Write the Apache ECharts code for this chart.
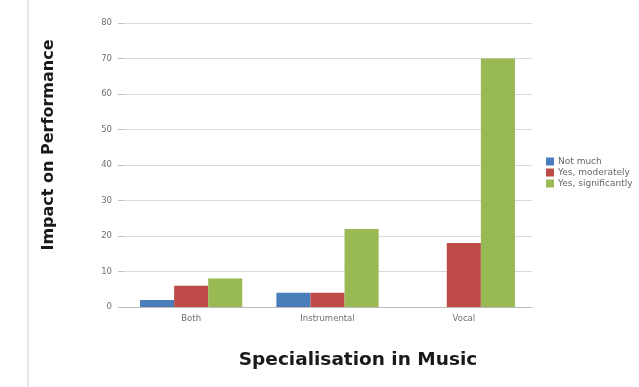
<!DOCTYPE html>
<html>
<head>
<meta charset="utf-8">
<script src="https://cdn.jsdelivr.net/npm/echarts@6/dist/echarts.min.js"></script>
<style>
  html, body { margin: 0; padding: 0; background: #fff; }
  #chart { width: 639px; height: 387px; }
</style>
</head>
<body>
<div id="chart"></div>
<script>
// Survey responses by music specialisation
const categories = ['Both', 'Instrumental', 'Vocal'];
const seriesNames = ['Not much', 'Yes, moderately', 'Yes, significantly'];
const notMuch = [2, 4, 0];
const moderately = [6, 4, 18];
const significantly = [8, 22, 70];
const yTicks = [0, 10, 20, 30, 40, 50, 60, 70, 80];
const xTitle = 'Specialisation in Music';
const yTitle = 'Impact on Performance';

const colors = ['#4a7ebb', '#be4b48', '#98b954'];
const values = [notMuch, moderately, significantly];

const chart = echarts.init(document.getElementById('chart'), null, { renderer: 'canvas' });

const titleFont = { fontFamily: 'DejaVu Sans', fontWeight: 'bold', fill: '#1a1a1a' };
const tickFont = { fontFamily: 'DejaVu Sans', fontSize: 8.5, color: '#707070' };

chart.setOption({
  backgroundColor: '#ffffff',
  animation: false,
  color: colors,
  grid: { left: 123, right: 107, top: 23, bottom: 80, containLabel: false },
  legend: {
    orient: 'vertical',
    left: 541,
    top: 152,
    itemWidth: 8,
    itemHeight: 8,
    itemGap: 2,
    icon: 'rect',
    textStyle: { fontFamily: 'DejaVu Sans', fontSize: 9, color: '#666', padding: [0, 0, 0, -1] },
    data: seriesNames
  },
  xAxis: {
    type: 'category',
    data: categories,
    axisLine: { lineStyle: { color: '#bbbbbb', width: 1 } },
    axisTick: { show: false },
    axisLabel: Object.assign({ margin: 7 }, tickFont)
  },
  yAxis: {
    type: 'value',
    min: yTicks[0],
    max: yTicks[yTicks.length - 1],
    interval: 10,
    axisLine: { show: false },
    axisTick: { show: true, length: 5, lineStyle: { color: '#bbbbbb' } },
    axisLabel: Object.assign({ margin: 11 }, tickFont),
    splitLine: { lineStyle: { color: '#d9d9d9', width: 1 } }
  },
  graphic: [
    {
      type: 'line',
      shape: { x1: 28, y1: 0, x2: 28, y2: 387 },
      style: { stroke: '#d0d0d0', lineWidth: 1 }
    },
    {
      type: 'text',
      x: 49, y: 145,
      rotation: Math.PI / 2,
      style: Object.assign({ text: yTitle, fontSize: 16, align: 'center', verticalAlign: 'middle' }, titleFont)
    },
    {
      type: 'text',
      x: 358, y: 360,
      style: Object.assign({ text: xTitle, fontSize: 18.5, align: 'center', verticalAlign: 'middle' }, titleFont)
    }
  ],
  series: seriesNames.map((name, i) => ({
    name: name,
    type: 'bar',
    data: values[i],
    barGap: '0%',
    barCategoryGap: '25%',
    itemStyle: { color: colors[i] }
  }))
});
</script>
</body>
</html>
